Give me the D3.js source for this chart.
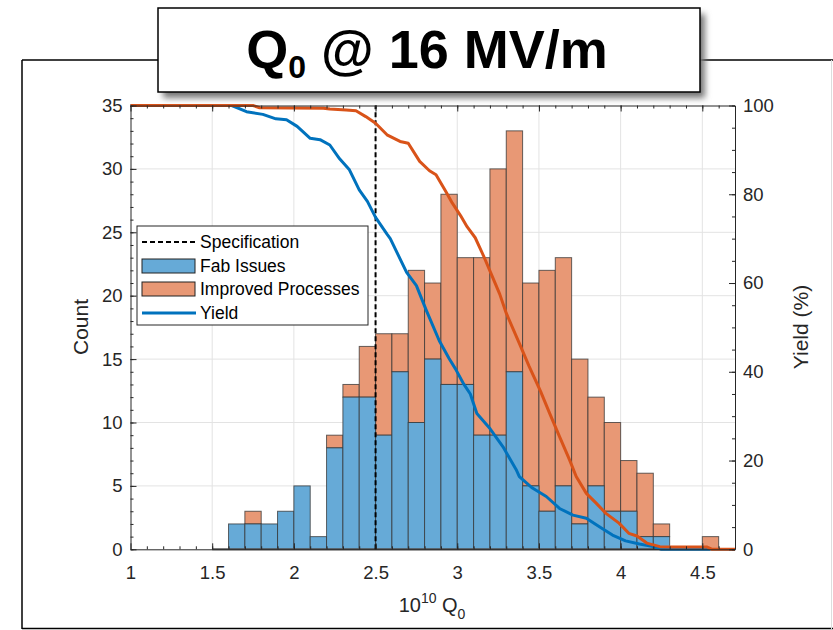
<!DOCTYPE html>
<html>
<head>
<meta charset="utf-8">
<script src="https://cdn.jsdelivr.net/npm/d3@7"></script>
<style>
  html, body { margin: 0; padding: 0; background: #fff; }
  svg text { font-family: "Liberation Sans", Arial, Helvetica, sans-serif; }
</style>
</head>
<body>
<svg id="chart" width="833" height="630"></svg>
<script>
// histogram bins (lower edge, width 0.1), counts per group
const binLo = [1.6, 1.7, 1.8, 1.9, 2.0, 2.1, 2.2, 2.3, 2.4, 2.5, 2.6, 2.7, 2.8, 2.9, 3.0,
               3.1, 3.2, 3.3, 3.4, 3.5, 3.6, 3.7, 3.8, 3.9, 4.0, 4.1, 4.2, 4.3, 4.4, 4.5];
const binWidth = 0.1;
const fabIssues = [2, 2, 2, 3, 5, 1, 8, 12, 12, 9, 14, 10, 15, 13, 13,
                   9, 9, 14, 5, 3, 5, 2, 5, 3, 3, 1, 1, 0, 0, 0];
const improved  = [0, 1, 0, 0, 0, 0, 1, 1, 4, 8, 3, 12, 6, 15, 10,
                   14, 21, 19, 16, 19, 18, 13, 7, 7, 4, 5, 1, 0, 0, 1];

// yield curves (%)
const fabYieldQ = [1.0, 1.62, 1.71, 1.81, 1.89, 1.955, 2.02, 2.10, 2.16, 2.22, 2.28, 2.34, 2.40, 2.45,
                   2.50, 2.57, 2.59, 2.69, 2.75, 2.81, 2.89, 2.95, 2.99, 3.04, 3.08, 3.12, 3.20, 3.28,
                   3.36, 3.38, 3.46, 3.545, 3.626, 3.708, 3.79, 3.87, 3.95, 4.03, 4.115, 4.20, 4.25, 4.55];
const fabYield  = [100, 100, 98.6, 98.0, 97.0, 96.8, 95.3, 92.6, 92.3, 91.1, 88.0, 85.5, 81.0, 78.4,
                   74.8, 71.0, 70.0, 62.4, 59.4, 53.9, 47.0, 43.0, 40.6, 37.2, 35.0, 30.6, 27.2, 23.1,
                   18.0, 16.4, 13.8, 11.9, 9.2, 7.7, 7.0, 5.1, 3.2, 1.9, 1.2, 0.6, 0, 0];
const impYieldQ = [1.0, 1.75, 1.79, 2.18, 2.22, 2.32, 2.38, 2.44, 2.50, 2.57, 2.65, 2.70, 2.77, 2.83,
                   2.87, 2.93, 2.97, 3.02, 3.06, 3.11, 3.16, 3.22, 3.26, 3.30, 3.38, 3.44, 3.51, 3.565,
                   3.626, 3.688, 3.728, 3.79, 3.85, 3.91, 3.99, 4.05, 4.10, 4.16, 4.24, 4.32, 4.53, 4.56, 4.7];
const impYield  = [100, 100, 99.5, 99.4, 99.2, 99.0, 98.8, 97.5, 96.0, 93.4, 91.9, 91.5, 87.4, 85.3,
                   84.4, 80.6, 78.0, 75.2, 72.7, 70.2, 66.2, 61.0, 57.5, 53.2, 46.4, 41.2, 35.6, 30.7,
                   25.4, 20.1, 16.4, 12.6, 10.4, 8.1, 5.9, 3.6, 3.0, 1.4, 0.6, 0.5, 0.5, 0, 0];

const specQ = 2.5;
const xTicks = [1, 1.5, 2, 2.5, 3, 3.5, 4, 4.5];
const countTicks = [0, 5, 10, 15, 20, 25, 30, 35];
const yieldTicks = [0, 20, 40, 60, 80, 100];
const legendItems = ["Specification", "Fab Issues", "Improved Processes", "Yield"];

const blueLine = "#0072BD", orangeLine = "#D95319";
const blueFace = "#66AAD7", orangeFace = "#E89875";
const axisCol = "#262626";

const svg = d3.select("#chart");

// outer frame
const frame = svg.append("g");
frame.append("line").attr("x1", 22).attr("y1", 60).attr("x2", 833).attr("y2", 60).attr("stroke", "#000").attr("stroke-width", 1.5);
frame.append("line").attr("x1", 22).attr("y1", 60).attr("x2", 22).attr("y2", 629).attr("stroke", "#000").attr("stroke-width", 1.5);
frame.append("line").attr("x1", 22).attr("y1", 628.5).attr("x2", 833).attr("y2", 628.5).attr("stroke", "#000").attr("stroke-width", 1.5);
frame.append("line").attr("x1", 831.5).attr("y1", 60).attr("x2", 831.5).attr("y2", 629).attr("stroke", "#ddd").attr("stroke-width", 1);

const x = d3.scaleLinear().domain([1, 4.7]).range([130.5, 735]);
const yL = d3.scaleLinear().domain([0, 35]).range([549.3, 105.5]);
const yR = d3.scaleLinear().domain([0, 100]).range([549.3, 105.5]);

// grid
const grid = svg.append("g").attr("stroke", "#e3e3e3").attr("stroke-width", 1);
grid.selectAll(".gx").data(xTicks.slice(1)).join("line")
  .attr("x1", d => x(d)).attr("x2", d => x(d)).attr("y1", yL(0)).attr("y2", yL(35));
grid.selectAll(".gy").data(countTicks.slice(1, -1)).join("line")
  .attr("x1", x(1)).attr("x2", x(4.7)).attr("y1", d => yL(d)).attr("y2", d => yL(d));

// stacked bars
const bins = binLo.map((lo, i) => ({ lo, fab: fabIssues[i], imp: improved[i] }));
const bars = svg.append("g").attr("stroke", "#333").attr("stroke-opacity", 0.75).attr("stroke-width", 1);
bars.selectAll(".imp").data(bins.filter(d => d.imp > 0)).join("rect")
  .attr("x", d => x(d.lo)).attr("width", d => x(d.lo + binWidth) - x(d.lo))
  .attr("y", d => yL(d.fab + d.imp)).attr("height", d => yL(d.fab) - yL(d.fab + d.imp))
  .attr("fill", orangeFace);
bars.selectAll(".fab").data(bins.filter(d => d.fab > 0)).join("rect")
  .attr("x", d => x(d.lo)).attr("width", d => x(d.lo + binWidth) - x(d.lo))
  .attr("y", d => yL(d.fab)).attr("height", d => yL(0) - yL(d.fab))
  .attr("fill", blueFace);

// bar baseline
svg.append("line").attr("x1", x(1.5)).attr("x2", x(4.7)).attr("y1", yL(0)).attr("y2", yL(0))
  .attr("stroke", "#555").attr("stroke-width", 2);

// specification line
svg.append("line").attr("x1", x(specQ)).attr("x2", x(specQ)).attr("y1", yL(0)).attr("y2", yL(35))
  .attr("stroke", "#000").attr("stroke-width", 2).attr("stroke-dasharray", "5,3");

// yield curves
const line = d3.line().x(d => x(d[0])).y(d => yR(d[1]));
svg.append("path").datum(fabYieldQ.map((q, i) => [q, fabYield[i]]))
  .attr("d", line).attr("fill", "none").attr("stroke", blueLine).attr("stroke-width", 3).attr("stroke-linejoin", "round");
svg.append("path").datum(impYieldQ.map((q, i) => [q, impYield[i]]))
  .attr("d", line).attr("fill", "none").attr("stroke", orangeLine).attr("stroke-width", 3).attr("stroke-linejoin", "round");

// axes
function styleAxis(g, size) {
  g.select(".domain").attr("stroke", axisCol).attr("stroke-width", 1);
  g.selectAll(".tick line").attr("stroke", axisCol);
  g.selectAll(".tick text").attr("fill", axisCol).attr("font-size", size);
}
const minorX = d3.range(11, 47).map(d => d / 10);
const minorL = d3.range(0, 36);
const minorR = d3.range(0, 101, 5);

svg.append("g").attr("transform", `translate(0,${yL(0)})`)
  .call(d3.axisBottom(x).tickValues(minorX).tickFormat("").tickSize(-3).tickSizeOuter(0))
  .call(g => { g.select(".domain").remove(); g.selectAll("line").attr("stroke", axisCol); });
svg.append("g").attr("transform", `translate(0,${yL(35)})`)
  .call(d3.axisTop(x).tickValues(minorX).tickFormat("").tickSize(-3).tickSizeOuter(0))
  .call(g => { g.select(".domain").remove(); g.selectAll("line").attr("stroke", axisCol); });
svg.append("g").attr("transform", `translate(${x(1)},0)`)
  .call(d3.axisLeft(yL).tickValues(minorL).tickFormat("").tickSize(-3).tickSizeOuter(0))
  .call(g => { g.select(".domain").remove(); g.selectAll("line").attr("stroke", axisCol); });
svg.append("g").attr("transform", `translate(${x(4.7)},0)`)
  .call(d3.axisRight(yR).tickValues(minorR).tickFormat("").tickSize(-3).tickSizeOuter(0))
  .call(g => { g.select(".domain").remove(); g.selectAll("line").attr("stroke", axisCol); });

svg.append("g").attr("transform", `translate(0,${yL(0)})`)
  .call(d3.axisBottom(x).tickValues(xTicks).tickFormat(d3.format("")).tickSize(-6).tickSizeOuter(0).tickPadding(17))
  .call(g => styleAxis(g, 18.5));
svg.append("g").attr("transform", `translate(0,${yL(35)})`)
  .call(d3.axisTop(x).tickValues(xTicks).tickFormat("").tickSize(-6).tickSizeOuter(0))
  .call(g => styleAxis(g, 18.5));
svg.append("g").attr("transform", `translate(${x(1)},0)`)
  .call(d3.axisLeft(yL).tickValues(countTicks).tickSize(-6).tickSizeOuter(0).tickPadding(8))
  .call(g => styleAxis(g, 18.5));
svg.append("g").attr("transform", `translate(${x(4.7)},0)`)
  .call(d3.axisRight(yR).tickValues(yieldTicks).tickSize(-6).tickSizeOuter(0).tickPadding(8))
  .call(g => styleAxis(g, 18.5));

// axis labels
svg.append("text").attr("transform", "translate(88,327) rotate(-90)").attr("text-anchor", "middle")
  .attr("font-size", 21).attr("fill", axisCol).text("Count");
svg.append("text").attr("transform", "translate(808,327) rotate(-90)").attr("text-anchor", "middle")
  .attr("font-size", 21).attr("fill", axisCol).text("Yield (%)");
const xl = svg.append("text").attr("x", 432).attr("y", 612).attr("text-anchor", "middle")
  .attr("font-size", 20).attr("fill", axisCol);
xl.append("tspan").text("10");
xl.append("tspan").attr("font-size", 14).attr("dy", -9).text("10");
xl.append("tspan").attr("dy", 9).text(" Q");
xl.append("tspan").attr("font-size", 14).attr("dy", 7).text("0");

// legend
const lg = svg.append("g").attr("transform", "translate(137,226)");
lg.append("rect").attr("width", 231).attr("height", 99).attr("fill", "#fff").attr("stroke", axisCol).attr("stroke-width", 1);
const rowY = [16, 40, 63, 87];
lg.append("line").attr("x1", 5).attr("x2", 59).attr("y1", rowY[0]).attr("y2", rowY[0])
  .attr("stroke", "#000").attr("stroke-width", 2).attr("stroke-dasharray", "5,3");
lg.append("rect").attr("x", 5).attr("y", rowY[1] - 7).attr("width", 53).attr("height", 14)
  .attr("fill", blueFace).attr("stroke", "#222");
lg.append("rect").attr("x", 5).attr("y", rowY[2] - 7).attr("width", 53).attr("height", 14)
  .attr("fill", orangeFace).attr("stroke", "#222");
lg.append("line").attr("x1", 5).attr("x2", 59).attr("y1", rowY[3]).attr("y2", rowY[3])
  .attr("stroke", blueLine).attr("stroke-width", 3);
lg.selectAll(".lt").data(legendItems).join("text")
  .attr("x", 63).attr("y", (d, i) => rowY[i] + 6).attr("font-size", 17.5).attr("fill", "#000").text(d => d);

// title box
const defs = svg.append("defs");
defs.append("filter").attr("id", "blur").attr("x", "-10%").attr("y", "-30%").attr("width", "120%").attr("height", "160%")
  .append("feGaussianBlur").attr("stdDeviation", 3);
svg.append("rect").attr("x", 163).attr("y", 14).attr("width", 542).attr("height", 84)
  .attr("fill", "#777").attr("filter", "url(#blur)");
svg.append("rect").attr("x", 158).attr("y", 8).attr("width", 542).attr("height", 84)
  .attr("fill", "#fff").attr("stroke", "#000").attr("stroke-width", 1.5);
const tt = svg.append("text").attr("x", 427).attr("y", 68).attr("text-anchor", "middle")
  .attr("font-size", 54).attr("font-weight", "bold").attr("fill", "#000");
tt.append("tspan").text("Q");
tt.append("tspan").attr("font-size", 32).attr("dy", 10).text("0");
tt.append("tspan").attr("dy", -10).text(" @ 16 MV/m");
</script>
</body>
</html>
